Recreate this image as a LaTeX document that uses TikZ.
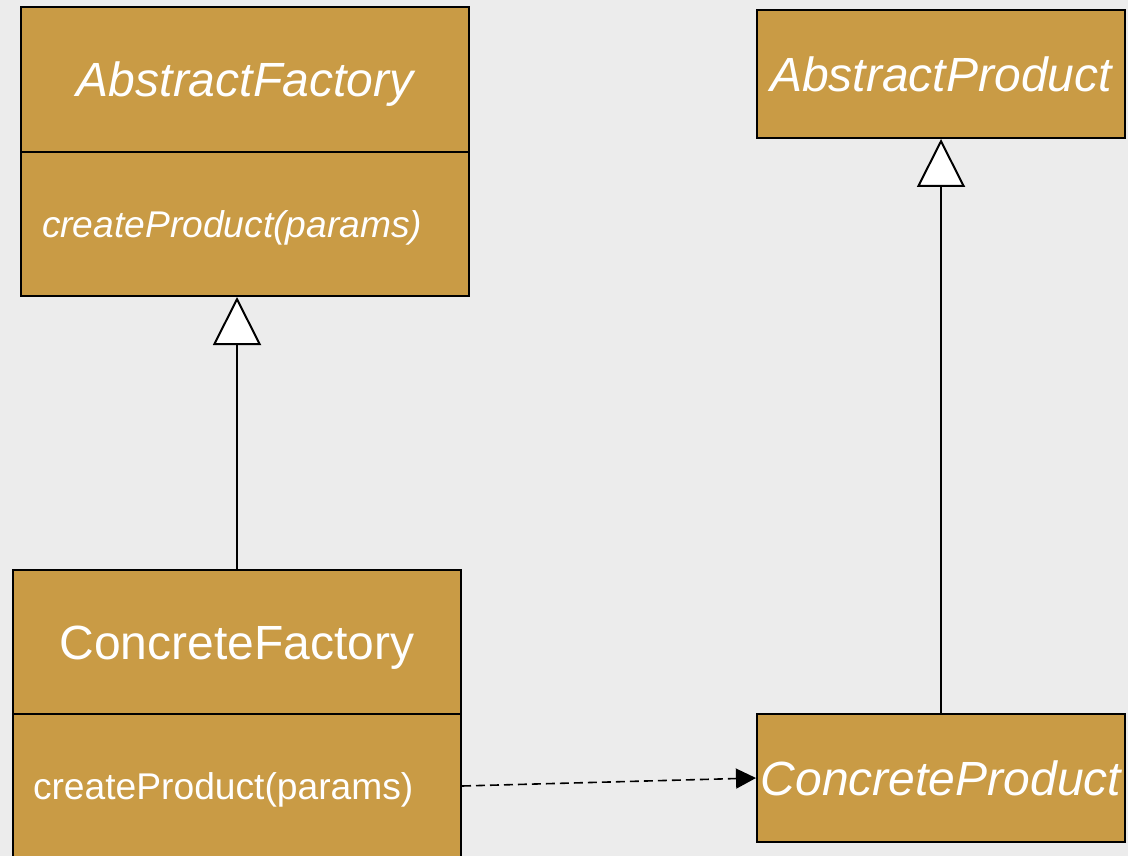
\documentclass[tikz,border=0pt]{standalone}
\usepackage{fontspec}
\setmainfont{Liberation Sans}
\usetikzlibrary{arrows.meta}

\definecolor{ochre}{RGB}{201,155,69}
\definecolor{paper}{RGB}{236,236,236}

\begin{document}
\begin{tikzpicture}[x = 1pt, y = -1pt, line width = 2pt,
	classbox/.style = {draw, fill = ochre, text = white, inner sep = 0pt, text height = 35pt, text depth = 0pt, font = \fontsize{48}{56}\selectfont},
	methodbox/.style = {classbox, text height = 27pt, font = \fontsize{37.2}{44}\selectfont, align = left},
	inherit/.style = {-{Triangle[length = 48pt, width = 48pt, fill = white, line width = 2pt]}},
	depend/.style = {dash pattern = on 9pt off 5pt, -{Triangle[length = 20pt, width = 20pt]}}]

	% Page and background
	
	\clip (0, 0) rectangle (1128, 856);
	\fill [paper] (0, 0) rectangle (1128, 856);
	
	% Factory classes
	
	\node [classbox, minimum width = 448pt, minimum height = 145pt] (af) at (245, 79.5) {\itshape AbstractFactory};
	\node [methodbox, minimum width = 448pt, minimum height = 144pt, text width = 406pt] (afm) at (245, 224) {\itshape createProduct(params)};
	
	\node [classbox, minimum width = 448pt, minimum height = 144pt] (cf) at (237, 642) {ConcreteFactory};
	\node [methodbox, minimum width = 448pt, minimum height = 144pt, text width = 408pt] (cfm) at (237, 786) {createProduct(params)};
	
	% Product classes
	
	\node [classbox, minimum width = 368pt, minimum height = 128pt] (ap) at (941, 74) {\itshape AbstractProduct};
	\node [classbox, minimum width = 368pt, minimum height = 128pt] (cp) at (941, 778) {\itshape ConcreteProduct};
	
	% Relations
	
	\draw [inherit] (cf.north) -- (cf.north |- afm.south);
	\draw [inherit] (cp.north) -- (ap.south);
	\draw [depend, line width = 1.6pt] (cfm.east) -- (cp.west);

\end{tikzpicture}
\end{document}
